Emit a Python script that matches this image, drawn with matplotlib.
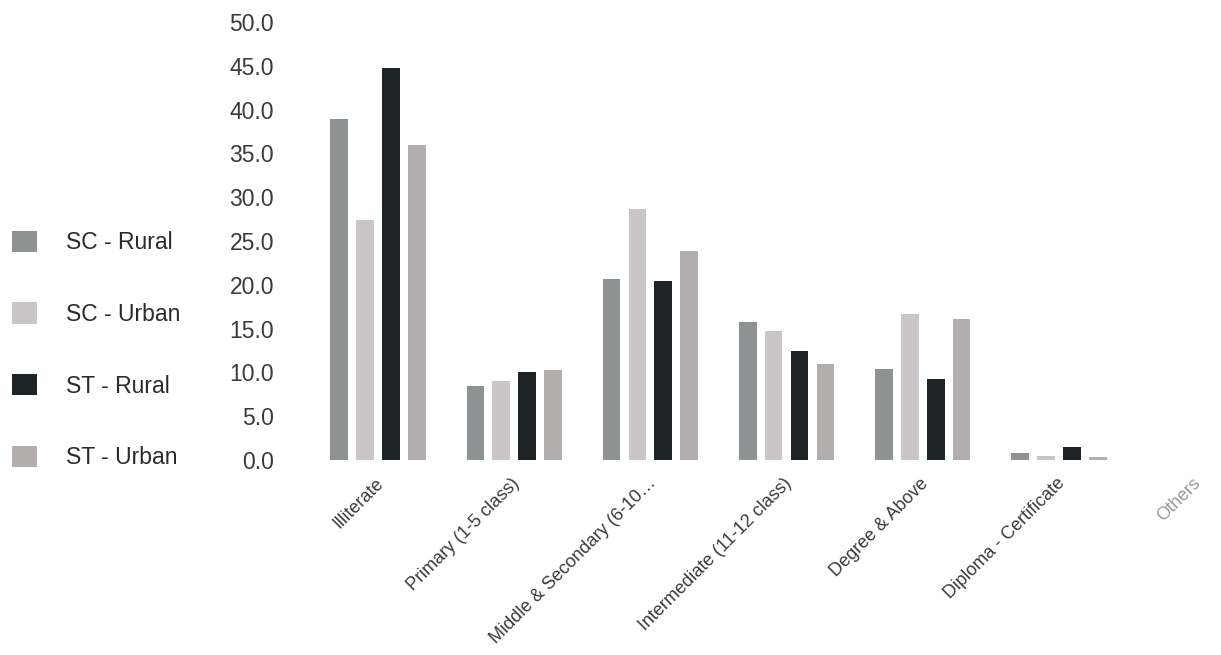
import numpy as np
import matplotlib
matplotlib.use("Agg")
import matplotlib.pyplot as plt
from matplotlib.patches import Patch
from matplotlib.transforms import ScaledTranslation

plt.rcParams['font.family'] = ['Liberation Sans', 'DejaVu Sans']

categories = ["Illiterate", "Primary (1-5 class)", "Middle & Secondary (6-10\u2026",
              "Intermediate (11-12 class)", "Degree & Above", "Diploma - Certificate",
              "Others"]
series_names = ["SC - Rural", "SC - Urban", "ST - Rural", "ST - Urban"]
sc_rural = [38.9, 8.4, 20.7, 15.8, 10.4, 0.8, 0.0]
sc_urban = [27.4, 9.0, 28.7, 14.7, 16.7, 0.5, 0.0]
st_rural = [44.7, 10.0, 20.4, 12.4, 9.2, 1.5, 0.0]
st_urban = [36.0, 10.3, 23.9, 11.0, 16.1, 0.3, 0.0]

colors = ["#8f9293", "#cac5c6", "#1c2426", "#b3adae"]

fig = plt.figure(figsize=(12.21, 6.55), dpi=100)
ax = fig.add_axes([290 / 1221, 195 / 655, (1221 - 290) / 1221, 438 / 655])

x = np.arange(len(categories))
step = 0.19
width = 0.13
all_series = [sc_rural, sc_urban, st_rural, st_urban]
for i, vals in enumerate(all_series):
    ax.bar(x + (i - 1.5) * step, vals, width=width, color=colors[i],
           label=series_names[i])

ax.set_ylim(0, 50)
ax.set_xlim(-0.646, 6.19)
ax.set_yticks(np.arange(0, 50.1, 5))
ax.set_yticklabels([f"{v:.1f}" for v in np.arange(0, 50.1, 5)])
ax.tick_params(axis='y', length=0, pad=11.5, labelsize=16.5, labelcolor="#3a3a3a")
ax.tick_params(axis='x', length=0, pad=15, labelsize=13, labelcolor="#3a3a3a")
for s in ax.spines.values():
    s.set_visible(False)

ax.set_xticks(x)
ax.set_xticklabels(categories, rotation=45, ha='right', va='center',
                   rotation_mode='anchor')
# nudge the slanted labels a little to the right of each group centre
offset = ScaledTranslation(3 / 100, 0, fig.dpi_scale_trans)
for lab in ax.get_xticklabels():
    lab.set_transform(lab.get_transform() + offset)
ax.get_xticklabels()[-1].set_color("#9a9a9a")

handles = [Patch(facecolor=c) for c in colors]
fig.legend(handles, series_names, loc='center left',
           bbox_to_anchor=(1 / 1221, 305 / 655), frameon=False,
           fontsize=16.5, handlelength=1.05, handleheight=1.05,
           handletextpad=1.3, labelspacing=2.1, borderpad=0,
           labelcolor="#2a2a2a")

fig.savefig("out.png", dpi=100)
